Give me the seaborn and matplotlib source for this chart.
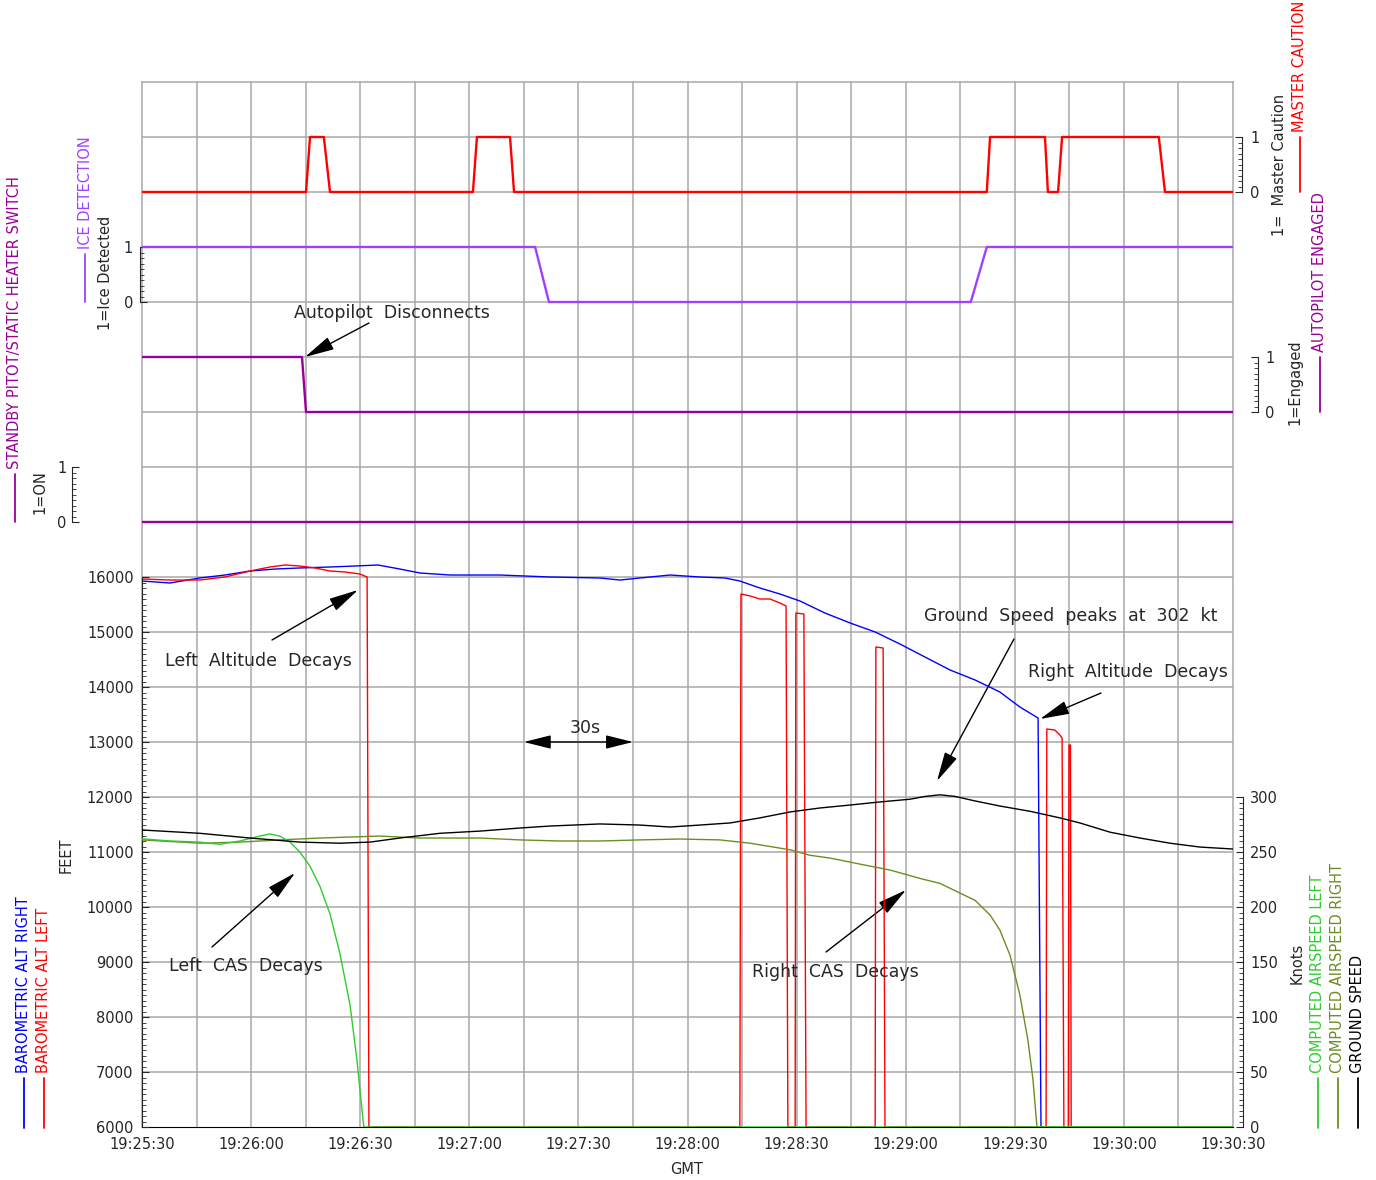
import numpy as np
import matplotlib
matplotlib.use("Agg")
import matplotlib.pyplot as plt
from matplotlib.ticker import FixedLocator
from matplotlib.lines import Line2D
import seaborn as sns

# time axis: seconds after 19:25:30 GMT
tick_secs = list(range(0, 301, 30))
tick_labels = ["19:25:30", "19:26:00", "19:26:30", "19:27:00", "19:27:30", "19:28:00",
               "19:28:30", "19:29:00", "19:29:30", "19:30:00", "19:30:30"]

# discrete signals (0/1)
mc_t = [0, 45.1, 46.2, 50.0, 51.7, 91.0, 92.1, 101.2, 102.3, 232.3, 233.2, 248.3,
        249.1, 251.9, 253.0, 279.6, 281.3, 300]
mc_v = [0, 0, 1, 1, 0, 0, 1, 1, 0, 0, 1, 1, 0, 0, 1, 1, 0, 0]
ice_t = [0, 108.1, 111.9, 227.9, 232.3, 300]
ice_v = [1, 1, 0, 0, 1, 1]
ap_t = [0, 44.0, 45.1, 300]
ap_v = [1, 1, 0, 0]
sb_t = [0, 300]
sb_v = [0, 0]

# barometric altitude (feet)
alt_r_t = [0, 7.7, 15.9, 22.8, 29.7, 36.6, 43.4, 51.7, 58.6, 64.9, 70.9, 76.4, 84.7,
           98.4, 112.2, 125.9, 131.4, 139.7, 145.2, 153.4, 160.3, 164.4, 169.9, 175.4,
           180.9, 187.8, 194.7, 201.6, 208.4, 215.3, 222.2, 229.1, 235.9, 241.4, 246.4,
           247.2, 300]
alt_r_v = [15927, 15891, 15982, 16036, 16109, 16145, 16164, 16182, 16200, 16218, 16145,
           16073, 16036, 16036, 16000, 15982, 15945, 16000, 16036, 16000, 15982, 15927,
           15800, 15691, 15564, 15345, 15164, 15000, 14782, 14545, 14309, 14127, 13909,
           13636, 13436, 6000, 6000]
alt_l_t = [0, 7.7, 15.9, 22.8, 29.7, 35.2, 39.3, 43.4, 47.6, 51.7, 55.8, 59.9, 61.9,
           62.4, 164.4, 164.7, 167.2, 169.9, 172.7, 175.4, 177.1, 177.6, 179.6, 179.8,
           182.0, 182.6, 201.6, 201.8, 203.8, 204.3, 248.6, 248.8, 251.0, 252.4, 253.0,
           253.5, 254.7, 254.9, 255.3, 255.5, 300]
alt_l_v = [15964, 15945, 15945, 16000, 16109, 16182, 16218, 16200, 16164, 16109, 16091,
           16055, 16000, 6000, 6000, 15691, 15655, 15600, 15600, 15527, 15473, 6000, 6000,
           15345, 15327, 6000, 6000, 14727, 14709, 6000, 6000, 13236, 13218, 13127, 13073,
           6000, 6000, 12945, 12945, 6000, 6000]

# speeds (knots)
cas_l_t = [0, 7.7, 15.9, 21.4, 26.9, 32.4, 35.2, 37.9, 40.7, 43.4, 46.2, 48.9, 51.7,
           54.4, 57.2, 59.1, 60.5, 61.0, 300]
cas_l_v = [262, 260, 259, 257, 260, 264.5, 266.4, 264.5, 259, 250, 237, 219, 193.6,
           158, 111, 61, 15.5, 0, 0]
cas_r_t = [0, 15.9, 26.9, 37.9, 48.9, 65.4, 76.4, 92.9, 103.9, 114.9, 125.9, 136.9,
           147.9, 158.9, 167.2, 172.7, 178.2, 183.7, 189.2, 197.4, 205.7, 213.9, 219.4,
           224.9, 229.1, 233.2, 235.9, 238.7, 241.4, 243.6, 245.0, 246.1, 300]
cas_r_v = [261, 258, 259, 261, 262.7, 264.5, 262.7, 262.7, 261, 260, 260, 261, 261.8,
           261, 258, 255, 252, 247, 244.5, 239, 233.6, 226, 221.5, 212.7, 206, 192.7,
           179, 156, 120, 79, 43, 0, 0]
gs_t = [0, 15.9, 29.7, 43.4, 54.4, 62.7, 70.9, 81.9, 92.9, 103.9, 112.2, 125.9, 136.9,
        145.2, 153.4, 161.7, 169.9, 178.2, 186.4, 194.7, 202.9, 211.2, 215.3, 219.4,
        223.6, 229.1, 235.9, 244.2, 252.4, 257.9, 266.2, 274.4, 282.7, 290.9, 300]
gs_v = [270, 267, 262.7, 259, 258, 259, 262.7, 267, 269, 271.8, 273.6, 275.5, 274.5,
        272.7, 274.5, 276.4, 281, 286.4, 290, 292.7, 295.5, 298, 300.5, 302, 300.5,
        296.4, 291.8, 287, 281, 276.4, 268, 262.7, 258, 254.5, 252.7]

RED = "#ff0000"
BLUE = "#0000ff"
VIOLET = "#a040ff"
PURPLE = "#990099"
LGREEN = "#2ecc2e"
OLIVE = "#6b8e23"
GRID = "#a8a8a8"

sns.set_style("white")
plt.rcParams["font.family"] = ["DejaVu Sans"]

W, H = 1376, 1180
fig = plt.figure(figsize=(W / 100, H / 100), dpi=100)
L, R, T, B = 142, 1233, 82, 1127
rect = [L / W, 1 - B / H, (R - L) / W, (B - T) / H]
PX = 0.72  # points per pixel at dpi 100

ax = fig.add_axes(rect)
ax.set_xlim(0, 300)
ax.set_ylim(0, 19)
for s in range(15, 300, 15):
    ax.axvline(s, color=GRID, lw=1.1, zorder=0)
for k in range(1, 19):
    ax.axhline(k, color=GRID, lw=1.1, zorder=0)
for side in ["top", "left", "right"]:
    ax.spines[side].set_color(GRID)
    ax.spines[side].set_linewidth(1.1)
ax.spines["bottom"].set_color("black")
ax.set_yticks([])
ax.set_xticks(tick_secs)
ax.set_xticklabels(tick_labels)
ax.xaxis.set_minor_locator(FixedLocator(np.arange(0, 300.01, 1.5)))
ax.tick_params(axis="x", which="both", direction="in", top=False)
ax.tick_params(axis="x", which="major", length=5, labelsize=10.5, pad=7)
ax.tick_params(axis="x", which="minor", length=3)


def overlay(ylim, side, offset_px, lo, hi, major, minor, pad):
    a = fig.add_axes(rect, sharex=ax)
    a.patch.set_visible(False)
    for sp in a.spines.values():
        sp.set_visible(False)
    a.set_ylim(*ylim)
    a.tick_params(axis="x", which="both", bottom=False, labelbottom=False)
    sp = a.spines[side]
    sp.set_visible(True)
    sp.set_position(("outward", offset_px * PX))
    sp.set_bounds(lo, hi)
    a.yaxis.set_ticks_position(side)
    a.set_yticks(major)
    a.yaxis.set_minor_locator(FixedLocator(np.arange(lo, hi + minor / 2, minor)))
    a.tick_params(axis="y", which="both", direction="in", labelsize=10.5, pad=pad)
    a.tick_params(axis="y", which="major", length=5)
    a.tick_params(axis="y", which="minor", length=3)
    return a


ax_alt = overlay((6000, 25000), "left", 0, 6000, 16000, list(range(6000, 16001, 1000)), 100, 6)
ax_kt = overlay((0, 950), "right", 10, 0, 300, list(range(0, 301, 50)), 5, 5)
ax_mc = overlay((-17, 2), "right", 9, 0, 1, [0, 1], 0.1, 6)
ax_ice = overlay((-15, 4), "left", 2, 0, 1, [0, 1], 0.1, 5)
ax_ap = overlay((-13, 6), "right", 25, 0, 1, [0, 1], 0.1, 5)
ax_sb = overlay((-11, 8), "left", 70, 0, 1, [0, 1], 0.1, 4)

kw = dict(estimator=None, sort=False)
sns.lineplot(x=mc_t, y=mc_v, ax=ax_mc, color=RED, lw=1.7, **kw)
sns.lineplot(x=ice_t, y=ice_v, ax=ax_ice, color=VIOLET, lw=1.7, **kw)
sns.lineplot(x=ap_t, y=ap_v, ax=ax_ap, color=PURPLE, lw=1.7, **kw)
sns.lineplot(x=sb_t, y=sb_v, ax=ax_sb, color=PURPLE, lw=1.7, **kw)
sns.lineplot(x=alt_r_t, y=alt_r_v, ax=ax_alt, color=BLUE, lw=1.0, **kw)
sns.lineplot(x=alt_l_t, y=alt_l_v, ax=ax_alt, color=RED, lw=1.0, **kw)
sns.lineplot(x=cas_r_t, y=cas_r_v, ax=ax_kt, color=OLIVE, lw=1.0, **kw)
sns.lineplot(x=cas_l_t, y=cas_l_v, ax=ax_kt, color=LGREEN, lw=1.0, **kw)
sns.lineplot(x=gs_t, y=gs_v, ax=ax_kt, color="black", lw=1.0, **kw)
for a in [ax_alt, ax_kt, ax_mc, ax_ice, ax_ap, ax_sb]:
    a.set_xlabel("")
    a.set_ylabel("")
ax.set_xlim(0, 300)


def P(x, y):
    return (x, H - y)


def ftext(x, y, s, **k):
    fig.text(x / W, 1 - y / H, s, **k)


def legend_entry(x, y0, length, label, color):
    fig.add_artist(Line2D([x / W, x / W], [1 - y0 / H, 1 - (y0 - length) / H],
                          color=color, lw=1.3, transform=fig.transFigure))
    ftext(x, y0 - length - 5, label, color=color, rotation=90, ha="center",
          va="bottom", fontsize=10.5)


legend_entry(15, 522, 48, "STANDBY PITOT/STATIC HEATER SWITCH", PURPLE)
legend_entry(85, 302, 48, "ICE DETECTION", VIOLET)
legend_entry(1300, 192, 55, "MASTER CAUTION", RED)
legend_entry(1320, 412, 55, "AUTOPILOT ENGAGED", PURPLE)
legend_entry(24, 1128, 50, "BAROMETRIC ALT RIGHT", BLUE)
legend_entry(44, 1128, 50, "BAROMETRIC ALT LEFT", RED)
legend_entry(1318, 1128, 50, "COMPUTED AIRSPEED LEFT", LGREEN)
legend_entry(1338, 1128, 50, "COMPUTED AIRSPEED RIGHT", OLIVE)
legend_entry(1358, 1128, 50, "GROUND SPEED", "black")

side_kw = dict(rotation=90, ha="center", va="center", fontsize=10.5)
ftext(106, 273, "1=Ice Detected", **side_kw)
ftext(40, 492, "1=ON", **side_kw)
ftext(1280, 165, "1=  Master Caution", **side_kw)
ftext(1295, 382, "1=Engaged", **side_kw)
ftext(66, 855, "FEET", **side_kw)
ftext(1297, 963, "Knots", **side_kw)
ftext(687, 1170, "GMT", ha="center", va="center", fontsize=10.5)

note_kw = dict(ha="center", va="center", fontsize=12.5)
ftext(392, 313, "Autopilot  Disconnects", **note_kw)
ftext(258, 661, "Left  Altitude  Decays", **note_kw)
ftext(1071, 616, "Ground  Speed  peaks  at  302  kt", **note_kw)
ftext(1128, 672, "Right  Altitude  Decays", **note_kw)
ftext(585, 728, "30s", **note_kw)
ftext(246, 966, "Left  CAS  Decays", **note_kw)
ftext(835, 972, "Right  CAS  Decays", **note_kw)

arrow = dict(arrowstyle="-|>,head_length=1.3,head_width=0.3", color="black", lw=1.0,
             mutation_scale=14, shrinkA=0, shrinkB=0)
for tail, tip in [((369, 323), (305, 357)), ((272, 640), (358, 590)),
                  ((1014, 639), (937, 781)), ((1101, 693), (1040, 719)),
                  ((212, 947), (295, 873)), ((826, 952), (906, 890))]:
    ax.annotate("", xy=P(*tip), xytext=P(*tail), xycoords="figure pixels",
                textcoords="figure pixels", arrowprops=arrow)
ax_alt.annotate("", xy=(135, 13000), xytext=(105, 13000),
                arrowprops=dict(arrowstyle="<|-|>,head_length=1.2,head_width=0.3",
                                color="black", lw=1.0, mutation_scale=14,
                                shrinkA=0, shrinkB=0))

fig.savefig("out.png", dpi=100)
